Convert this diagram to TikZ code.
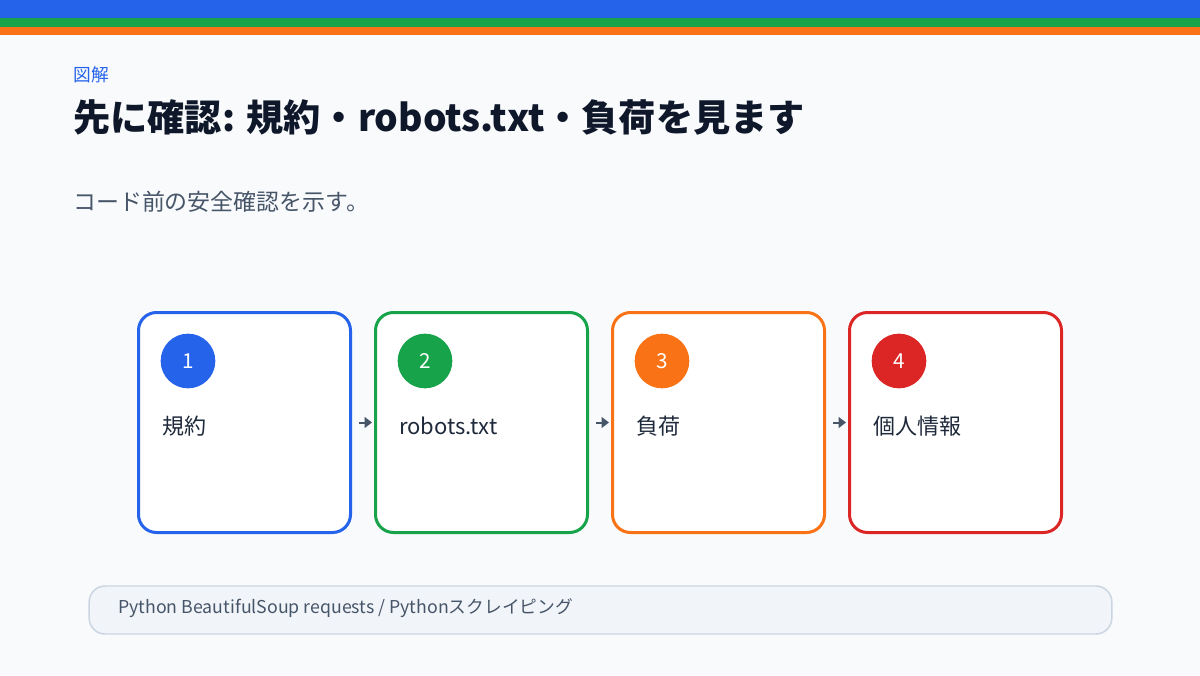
\documentclass[tikz,border=0pt]{standalone}
\usepackage{fontspec}
\setmainfont{Noto Sans CJK JP}
\usetikzlibrary{arrows.meta}
\definecolor{bg}{HTML}{F8FAFC}
\definecolor{cblue}{HTML}{2563EB}
\definecolor{cgreen}{HTML}{16A34A}
\definecolor{corange}{HTML}{F97316}
\definecolor{cred}{HTML}{DC2626}
\definecolor{ink}{HTML}{0F172A}
\definecolor{body}{HTML}{1E293B}
\definecolor{muted}{HTML}{475569}
\definecolor{footfill}{HTML}{F1F5F9}
\definecolor{footline}{HTML}{CBD5E1}
\begin{document}
\begin{tikzpicture}[x=0.75pt,y=-0.75pt,
  stepcard/.style={draw=#1,line width=2.25pt,fill=white,rounded corners=13.5pt,minimum width=159pt,minimum height=165pt,inner sep=0pt},
  badge/.style={circle,fill=#1,minimum size=41pt,inner sep=0pt,text=white,font=\fontsize{15.5}{18}\selectfont},
  steplabel/.style={anchor=west,inner sep=0pt,text=body,font=\fontsize{16.5}{20}\selectfont},
  flow/.style={draw=muted,line width=1.5pt,-{Triangle[length=5.5pt,width=8pt]},shorten <=5.5pt,shorten >=1.5pt}]
\useasboundingbox (0,0) rectangle (1200,675);
\fill[bg] (0,0) rectangle (1200,675);
\fill[cblue] (0,0) rectangle (1200,18);
\fill[cgreen] (0,18) rectangle (1200,27);
\fill[corange] (0,27) rectangle (1200,35);
\node[anchor=west,inner sep=0pt,text=cblue,font=\fontsize{13.3}{15}\selectfont] (kicker) at (73,75) {図解};
\node[anchor=west,inner sep=0pt,text=ink,font=\fontsize{27.9}{32}\selectfont\bfseries] (title) at (73,117) {先に確認: 規約・robots.txt・負荷を見ます};
\node[anchor=west,inner sep=0pt,text=muted,font=\fontsize{17.2}{20}\selectfont] (sub) at (73,202) {コード前の安全確認を示す。};
\foreach \i/\c/\t [count=\k from 0] in {1/cblue/規約,2/cgreen/robots.txt,3/corange/負荷,4/cred/個人情報}{
  \node[stepcard=\c] (b\i) at (244.5+237*\k,422.5) {};
  \node[badge=\c] (n\i) at (188+237*\k,361) {\i};
  \node[steplabel] (l\i) at (162+237*\k,426) {\t};
}
\draw[flow] (b1.east) -- (b2.west);
\draw[flow] (b2.east) -- (b3.west);
\draw[flow] (b3.east) -- (b4.west);
\node[draw=footline,line width=1.1pt,fill=footfill,rounded corners=12pt,minimum width=767pt,minimum height=36pt,inner sep=0pt] (foot) at (600.5,610) {};
\node[anchor=west,inner sep=0pt,text=muted,font=\fontsize{13.3}{15}\selectfont] (foottext) at (118,608) {Python BeautifulSoup requests / Pythonスクレイピング};
\end{tikzpicture}
\end{document}
